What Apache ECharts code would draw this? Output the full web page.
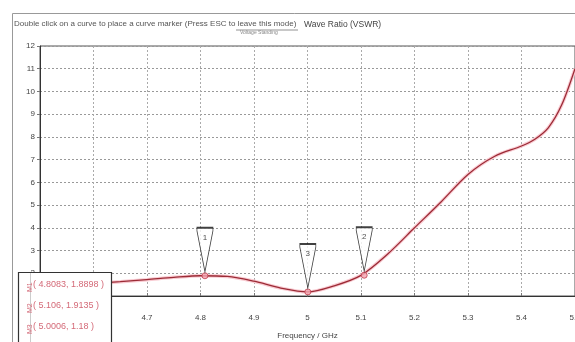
<!DOCTYPE html>
<html><head><meta charset="utf-8">
<script src="https://cdn.jsdelivr.net/npm/echarts@6/dist/echarts.min.js"></script>
<style>html,body{margin:0;padding:0;background:#fff}#c{width:575px;height:342px}</style>
</head><body><div id="c"></div>
<script>
// data
var freq = [4.50,4.55,4.60,4.65,4.70,4.75,4.80,4.85,4.90,4.95,5.00,5.05,5.10,5.15,5.20,5.25,5.30,5.35,5.40,5.425,5.45,5.475,5.50];
var vswr = [1.45,1.50,1.55,1.63,1.72,1.82,1.89,1.86,1.65,1.35,1.18,1.45,1.91,2.85,4.00,5.15,6.35,7.15,7.60,7.90,8.40,9.40,11.00];
var markerX = [4.8083, 5.0006, 5.106];
var markerY = [1.8898, 1.18, 1.9135];
var markerNames = ['1', '3', '2'];
var markerRows = ['( 4.8083, 1.8898 )', '( 5.106, 1.9135 )', '( 5.0006, 1.18 )'];
var titleHint = 'Double click on a curve to place a curve marker (Press ESC to leave this mode)';
var titleMain = 'Wave Ratio (VSWR)';
var titleSmall = 'Voltage Standing';
var xName = 'Frequency / GHz';

var curve = freq.map(function(f,i){return [f, vswr[i]];});
var marks = markerX.map(function(f,i){return [f, markerY[i], markerNames[i]];});

var chart = echarts.init(document.getElementById('c'), null, {renderer:'canvas'});
var FONT = 'Liberation Sans';
var rowEls = markerRows.map(function(t,i){
  return {type:'text', left:33, top:280 + i*21, style:{text:t, fill:'#d46a78', font:'9px '+FONT}, z:102};
});
var sideEls = markerNames.map(function(t,i){
  return {type:'text', x:27, y:292 + i*21, rotation:Math.PI/2, style:{text:'M'+(i+1), fill:'#d46a78', font:'7px '+FONT}, z:102};
});
chart.setOption({
  animation:false,
  backgroundColor:'#fff',
  grid:{left:40, right:0, top:46, bottom:46, show:true, borderColor:'#555', borderWidth:1, outerBoundsMode:'none', containLabel:false},
  xAxis:{type:'value', min:4.5, max:5.5, interval:0.1,
    axisLine:{onZero:false, lineStyle:{color:'#333'}},
    axisTick:{show:true, inside:true, length:3, lineStyle:{color:'#777'}},
    axisLabel:{color:'#444', fontSize:8, fontFamily:FONT, margin:18, showMaxLabel:true, hideOverlap:false,
      formatter:function(v){return (Math.round(v*10)/10).toString();}},
    splitLine:{show:true, lineStyle:{color:'#aaa', type:[2,2], width:1}},
    name:xName, nameLocation:'middle', nameGap:36, nameTextStyle:{color:'#444', fontSize:8, fontFamily:FONT}
  },
  yAxis:{type:'value', min:1, max:12, interval:1,
    axisLine:{onZero:false, lineStyle:{color:'#333'}},
    axisTick:{show:true, length:3, lineStyle:{color:'#777'}},
    axisLabel:{color:'#444', fontSize:8, fontFamily:FONT, margin:5},
    splitLine:{show:true, lineStyle:{color:'#999', type:[2,2], width:1}}
  },
  series:[
    {type:'line', data:curve, smooth:0.3, symbol:'none', silent:true,
     lineStyle:{color:'#f9cbd2', width:3.5}, z:2},
    {type:'line', data:curve, smooth:0.3, symbol:'none',
     lineStyle:{color:'#9c2b36', width:1.3}, z:3},
    {type:'scatter', data:marks, symbol:'circle', symbolSize:6, z:4,
     itemStyle:{color:'#f3a5b0', borderColor:'#c0404f', borderWidth:1}},
    {type:'scatter', data:marks, z:5,
     symbol:'path://M0,0 L16,0 L16,3 L8,44 L0,3 Z', symbolSize:[16,44], symbolOffset:[0,-26],
     itemStyle:{color:'#fff', borderColor:'#111', borderWidth:1.2},
     label:{show:true, position:'inside', offset:[0,-12], formatter:function(p){return p.data[2];},
       color:'#222', fontSize:8, fontFamily:FONT}}
  ],
  graphic:[
    {type:'rect', shape:{x:12.5, y:13.5, width:700, height:400}, style:{fill:'none', stroke:'#999', lineWidth:1}, z:100},
    {type:'text', left:14, top:20, style:{text:titleHint, fill:'#555', font:'8px '+FONT}, z:101},
    {type:'line', shape:{x1:236, y1:30, x2:298, y2:30}, style:{stroke:'#777', lineWidth:0.8}, z:101},
    {type:'text', left:240, top:30, style:{text:titleSmall, fill:'#888', font:'5px '+FONT}, z:101},
    {type:'text', left:304, top:20, style:{text:titleMain, fill:'#444', font:'8.5px '+FONT}, z:101},
    {type:'rect', shape:{x:18.5, y:272.5, width:93, height:80}, style:{fill:'#fff', stroke:'#333', lineWidth:1.2}, z:101},
    {type:'line', shape:{x1:30.5, y1:273, x2:30.5, y2:342}, style:{stroke:'#ccc', lineWidth:1}, z:102}
  ].concat(rowEls).concat(sideEls)
});
</script></body></html>
